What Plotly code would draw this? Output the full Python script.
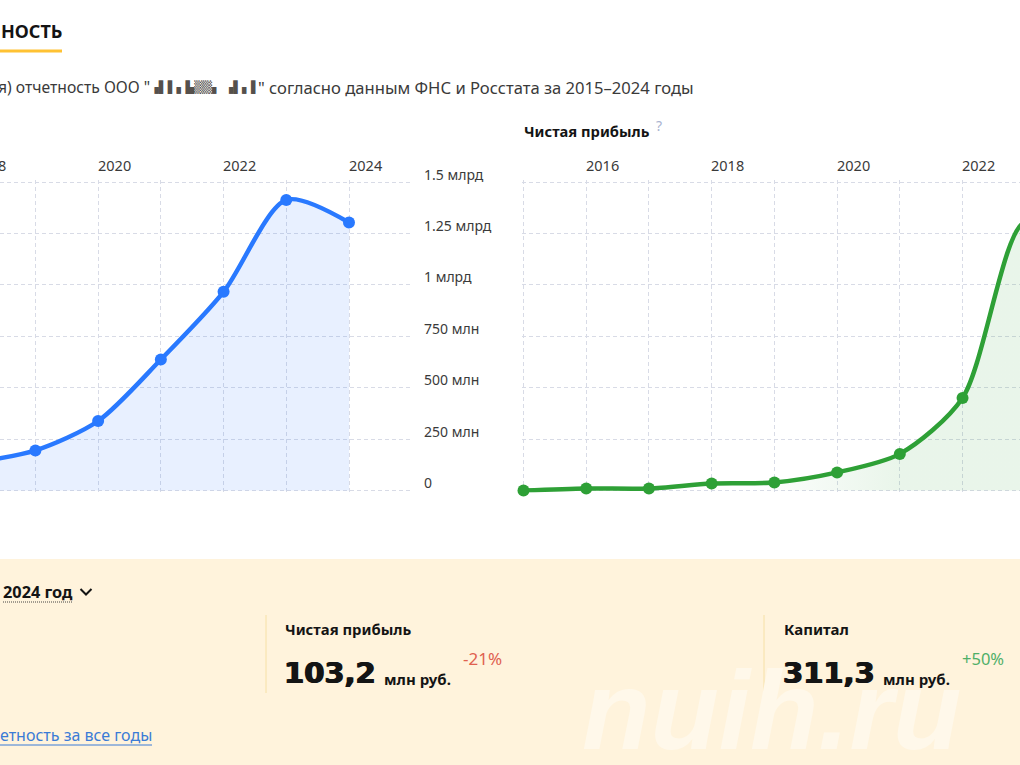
import plotly.graph_objects as go

years = [2015, 2016, 2017, 2018, 2019, 2020, 2021, 2022, 2023, 2024]
revenue_years = [2018, 2019, 2020, 2021, 2022, 2023, 2024]
revenue = [135, 195, 338, 637, 966, 1413, 1303]
profit = [0, 1, 1, 3.4, 3.9, 8.8, 17.8, 45, 130.6, 103.2]
revenue_ticks = [0, 250, 500, 750, 1000, 1250, 1500]
revenue_tick_labels = ["0", "250 млн", "500 млн", "750 млн", "1 млрд", "1.25 млрд", "1.5 млрд"]
profit_ticks = [0, 25, 50, 75, 100, 125, 150]
year_labels_left = [2020, 2022, 2024]
year_labels_right = [2016, 2018, 2020, 2022]

W, H = 1020, 765
BLUE = "#2979FF"
GREEN = "#2EA036"
GRID = "#D8DBE6"
FONT = "Noto Sans"
TXT = "#3A3A3A"
DARK = "#141414"
PAD = 2  # px of axis padding, so the edge gridlines are drawn

def px(x): return x / W
def py(y): return 1 - y / H

fig = go.Figure()
fig.add_trace(go.Scatter(
    x=revenue_years, y=revenue, mode="lines+markers", xaxis="x", yaxis="y",
    line=dict(color=BLUE, width=4.5, shape="spline", smoothing=0.8),
    marker=dict(color=BLUE, size=12), fill="tozeroy", fillcolor="rgba(41,121,255,0.11)",
    cliponaxis=False, showlegend=False))
fig.add_trace(go.Scatter(
    x=years, y=profit, mode="lines+markers", xaxis="x2", yaxis="y2",
    line=dict(color=GREEN, width=4.5, shape="spline", smoothing=0.8),
    marker=dict(color=GREEN, size=12), fill="tozeroy",
    fillgradient=dict(type="horizontal", start=2015, stop=2021,
                      colorscale=[[0, "rgba(46,160,54,0)"], [0.6, "rgba(46,160,54,0)"], [1, "rgba(46,160,54,0.105)"]]),
    cliponaxis=False, showlegend=False))

axis_common = dict(showgrid=True, gridcolor=GRID, griddash="4px,3px", gridwidth=1,
                   zeroline=False, showline=False, showticklabels=False, ticks="")
yp = PAD / (308.5 / 1500)
yp2 = PAD / (308.5 / 150)
fig.update_layout(
    width=W, height=H, margin=dict(l=0, r=0, t=0, b=0, pad=0),
    paper_bgcolor="white", plot_bgcolor="rgba(0,0,0,0)", font=dict(family=FONT, color=TXT),
    xaxis=dict(axis_common, domain=[0, px(412)], range=[2024 - 349 / 62.72, 2024 + 63 / 62.72],
               tickvals=list(range(2015, 2025))),
    yaxis=dict(axis_common, domain=[py(490.5 + PAD), py(182 - PAD)], range=[-yp, 1500 + yp],
               tickvals=revenue_ticks, anchor="x"),
    xaxis2=dict(axis_common, domain=[px(523.5 - PAD), 1],
                range=[2015 - PAD / 62.72, 2015 + 496.5 / 62.72],
                tickvals=list(range(2015, 2025)), anchor="y2"),
    yaxis2=dict(axis_common, domain=[py(490.5 + PAD), py(182 - PAD)], range=[-yp2, 150 + yp2],
                tickvals=profit_ticks, anchor="x2"),
)

def text(x, y, s, size=14, color=TXT, bold=False, anchor="left", family=FONT, **font_kw):
    fig.add_annotation(xref="paper", yref="paper", x=px(x), y=py(y), text=f"<b>{s}</b>" if bold else s,
                       showarrow=False, xanchor=anchor, yanchor="middle",
                       font=dict(size=size, color=color, family=family, **font_kw),
                       borderpad=0, borderwidth=0)

# band, dividers, underline (page furniture, drawn below the traces)
fig.add_shape(type="rect", xref="paper", yref="paper", x0=0, x1=1, y0=0, y1=py(559),
              fillcolor="#FFF3DC", line_width=0, layer="below")
for x in (266, 764):
    fig.add_shape(type="line", xref="paper", yref="paper", x0=px(x), x1=px(x), y0=py(615), y1=py(693),
                  line=dict(color="#F6E0A6", width=1))
fig.add_shape(type="line", xref="paper", yref="paper", x0=0, x1=px(62), y0=py(51), y1=py(51),
              line=dict(color="#FFC233", width=3))
fig.add_shape(type="line", xref="paper", yref="paper", x0=px(3), x1=px(72), y0=py(602), y1=py(602),
              line=dict(color="#444444", width=1, dash="1px,1px"))
fig.add_shape(type="line", xref="paper", yref="paper", x0=0, x1=px(152), y0=py(745), y1=py(745),
              line=dict(color="#3B7BD6", width=1))
fig.add_shape(type="path", xref="paper", yref="paper",
              path=f"M {px(80.5)} {py(589)} L {px(86)} {py(594.5)} L {px(91.5)} {py(589)}",
              line=dict(color=DARK, width=2))

# year labels, offset to the right of their gridlines
text(-11, 165, "2018", size=14.5, anchor="center")
for y_ in year_labels_left:
    fig.add_annotation(xref="x", yref="paper", x=y_, y=py(165), text=str(y_), showarrow=False, xshift=16,
                       xanchor="center", yanchor="middle", font=dict(size=14.5, color=TXT, family=FONT))
for y_ in year_labels_right:
    fig.add_annotation(xref="x2", yref="paper", x=y_, y=py(165), text=str(y_), showarrow=False, xshift=16,
                       xanchor="center", yanchor="middle", font=dict(size=14.5, color=TXT, family=FONT))
for v, lab in zip(revenue_ticks, revenue_tick_labels):
    fig.add_annotation(xref="paper", yref="y", x=px(421.5), y=v, text=lab, showarrow=False, yshift=8,
                       xanchor="left", yanchor="middle", font=dict(size=14, color=TXT, family=FONT))

HEAVY = "0.7px 0 0 #141414, -0.7px 0 0 #141414"
text(62, 31, "НОСТЬ", size=18, color=DARK, bold=True, anchor="right")
text(150, 87, "я) отчетность ООО \"", size=15.7, color=TXT, anchor="right")
text(205, 87, "▗▌▌▖▙▒▒▖ ▗▌▖▌", size=11.5, color="#55504C", anchor="center", family="DejaVu Sans")
text(258, 87, "\" согласно данным ФНС и Росстата за 2015–2024 годы", size=16.6, color=TXT)
text(524, 131, "Чистая прибыль", size=14.7, color=DARK, bold=True)
text(656, 126, "?", size=14, color="#A9B3D0")
text(3, 592, "2024 год", size=16.3, color=DARK, bold=True)
text(285, 629, "Чистая прибыль", size=14.8, color=DARK, bold=True)
text(784, 629, "Капитал", size=15, color=DARK, bold=True)
text(284, 673, "103,2", size=29, color=DARK, bold=True, family="DejaVu Sans", shadow=HEAVY)
text(783, 673, "311,3", size=29, color=DARK, bold=True, family="DejaVu Sans", shadow=HEAVY)
text(384, 679, "млн руб.", size=15, color=DARK, bold=True)
text(883, 679, "млн руб.", size=15, color=DARK, bold=True)
text(463, 658.5, "-21%", size=17, color="#E0604F")
text(962, 658.5, "+50%", size=16.5, color="#4FAF68")
text(152, 735, "етность за все годы", size=16, color="#3B7BD6", anchor="right")
text(771, 710, "<b>nuih.ru</b>", size=112, color="#FFF8EA", anchor="center", family="Liberation Sans", style="italic")

fig.write_html("out.html", config={"displayModeBar": False}, post_script="document.body.style.margin='0';")
